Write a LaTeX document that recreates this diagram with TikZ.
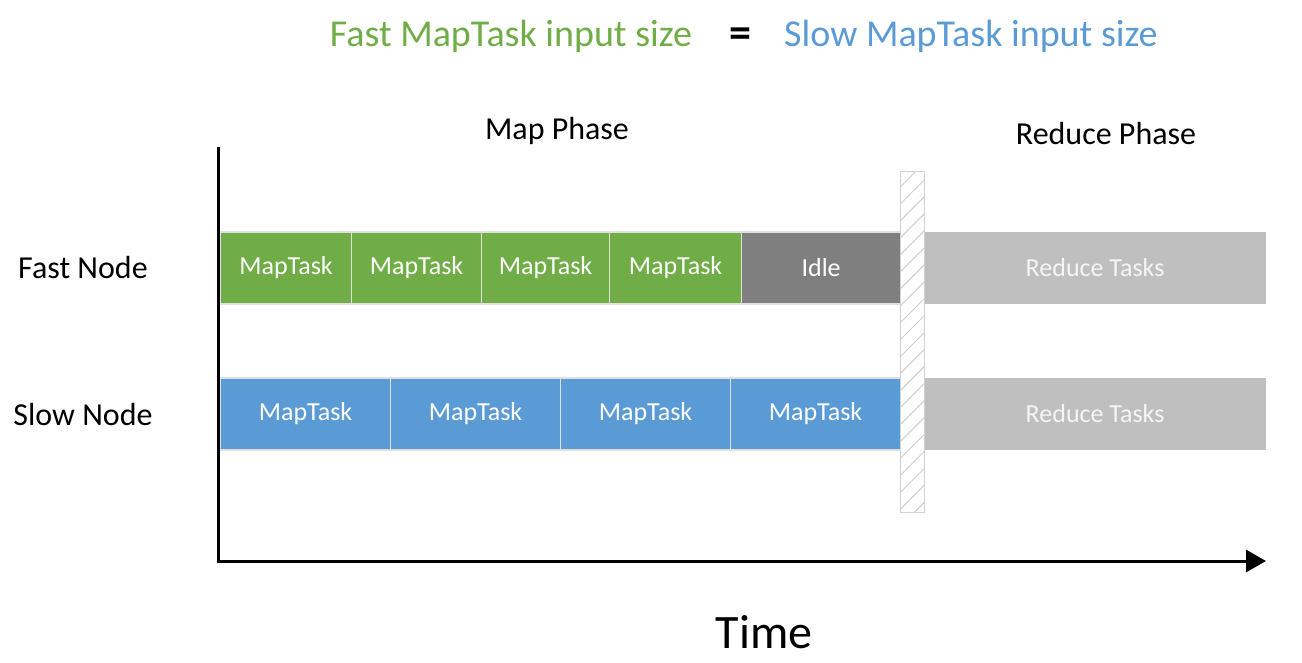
\documentclass[tikz,border=0pt]{standalone}
\usepackage{fontspec}
\setmainfont{Carlito}
\usetikzlibrary{arrows.meta,patterns.meta}
\definecolor{fastgreen}{HTML}{70AD47}
\definecolor{slowblue}{HTML}{5B9BD5}
\definecolor{idlegray}{HTML}{7F7F7F}
\definecolor{reducegray}{HTML}{BFBFBF}
\tikzset{
  task/.style={draw=white!75!gray, line width=1.2pt, inner sep=0pt,
    minimum height=72pt, anchor=west, text=white,
    font=\fontsize{26}{26}\selectfont},
  fasttask/.style={task, fill=fastgreen},
  slowtask/.style={task, fill=slowblue},
  label/.style={font=\fontsize{32}{32}\selectfont}
}
\begin{document}
\begin{tikzpicture}[x=1pt, y=-1pt]
\useasboundingbox (0,0) rectangle (1302,663);
% title
\node (fasttitle) [text=fastgreen, font=\fontsize{38}{38}\selectfont] at (511,36) {Fast MapTask input size};
\node (eqsign) [font=\fontsize{44}{44}\selectfont\bfseries] at (740,38) {=};
\node (slowtitle) [text=slowblue, font=\fontsize{38}{38}\selectfont] at (971,36) {Slow MapTask input size};
% phases
\node (mapphase) [label] at (557,131) {Map Phase};
\node (redphase) [label] at (1106,134) {Reduce Phase};
\node (fastnode) [label] at (83,268) {Fast Node};
\node (slownode) [label] at (83,414) {Slow Node};
% fast node row
\node (f1) [fasttask, minimum width=131pt] at (220,268) {MapTask};
\node (f2) [fasttask, minimum width=130pt] at (351,268) {MapTask};
\node (f3) [fasttask, minimum width=128pt] at (481,268) {MapTask};
\node (f4) [fasttask, minimum width=132pt] at (609,268) {MapTask};
\node (idle) [task, fill=idlegray, minimum width=159pt] at (741,268) {Idle};
\node (fred) [task, fill=reducegray, draw=none, text=white!92!gray, minimum width=341pt] at (924,268) {Reduce Tasks};
% slow node row
\node (s1) [slowtask, minimum width=170pt] at (220,414) {MapTask};
\node (s2) [slowtask, minimum width=170pt] at (390,414) {MapTask};
\node (s3) [slowtask, minimum width=170pt] at (560,414) {MapTask};
\node (s4) [slowtask, minimum width=170pt] at (730,414) {MapTask};
\node (sred) [task, fill=reducegray, draw=none, text=white!92!gray, minimum width=341pt] at (924,414) {Reduce Tasks};
% barrier
\node (barrier) [draw=gray!35, line width=1pt, fill=white, minimum width=24pt, minimum height=340pt, inner sep=0pt,
  pattern={Lines[angle=45, distance=12pt, line width=1pt]}, pattern color=gray!40] at (912,342) {};
% axes
\coordinate (ytop) at (218,147);
\coordinate (origin) at (218,561);
\coordinate (xend) at (1266,561);
\draw[line width=3pt, -{Triangle[length=20pt, width=22pt]}] (ytop) -- (origin) -- (xend);
\node (time) [font=\fontsize{48}{48}\selectfont] at (764,632) {Time};
\end{tikzpicture}
\end{document}
